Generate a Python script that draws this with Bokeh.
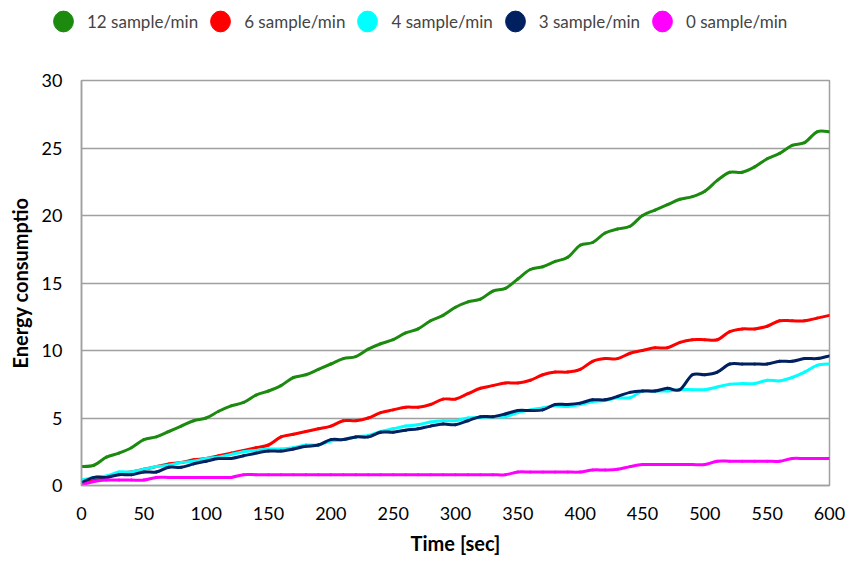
from bokeh.plotting import figure
from bokeh.models import Legend, LegendItem, Range1d, FixedTicker
from bokeh.layouts import column
from bokeh.embed import file_html
from bokeh.resources import INLINE

# Time axis (seconds), one reading every 10 s
time_sec = list(range(0, 601, 10))

rate_12 = [1.4, 1.5, 2.1, 2.4, 2.8, 3.4, 3.6, 4.0, 4.4, 4.8, 5.0, 5.5, 5.9, 6.15, 6.7, 7.0,
           7.4, 8.0, 8.2, 8.6, 9.0, 9.4, 9.55, 10.1, 10.5, 10.8, 11.3, 11.6, 12.2, 12.6, 13.2,
           13.6, 13.8, 14.4, 14.6, 15.3, 16.0, 16.2, 16.6, 16.9, 17.8, 18.0, 18.7, 19.0, 19.2,
           20.0, 20.4, 20.8, 21.2, 21.4, 21.8, 22.6, 23.2, 23.2, 23.6, 24.2, 24.6, 25.2, 25.4,
           26.2, 26.2]
rate_6 = [0.1, 0.4, 0.6, 0.9, 1.0, 1.2, 1.4, 1.6, 1.7, 1.9, 2.0, 2.2, 2.4, 2.6, 2.8, 3.0,
          3.6, 3.8, 4.0, 4.2, 4.4, 4.8, 4.8, 5.0, 5.4, 5.6, 5.8, 5.8, 6.0, 6.4, 6.4,
          6.8, 7.2, 7.4, 7.6, 7.6, 7.8, 8.2, 8.4, 8.4, 8.6, 9.2, 9.4, 9.4, 9.8,
          10.0, 10.2, 10.2, 10.6, 10.8, 10.8, 10.8, 11.4, 11.6, 11.6, 11.8, 12.2, 12.2, 12.2,
          12.4, 12.6]
rate_4 = [0.4, 0.6, 0.7, 1.0, 1.0, 1.2, 1.4, 1.5, 1.7, 1.8, 2.0, 2.1, 2.3, 2.5, 2.6, 2.7,
          2.7, 2.8, 3.0, 3.0, 3.3, 3.4, 3.6, 3.7, 4.0, 4.2, 4.4, 4.5, 4.7, 4.8, 4.8,
          5.0, 5.05, 5.1, 5.1, 5.4, 5.6, 5.75, 5.9, 5.85, 6.0, 6.2, 6.3, 6.5, 6.5,
          7.0, 7.0, 7.0, 7.1, 7.1, 7.1, 7.3, 7.5, 7.55, 7.55, 7.8, 7.75, 8.0, 8.4,
          8.9, 9.0]
rate_3 = [0.2, 0.6, 0.6, 0.8, 0.8, 1.0, 1.0, 1.35, 1.35, 1.6, 1.8, 2.0, 2.0, 2.2, 2.4, 2.55,
          2.55, 2.7, 2.9, 3.0, 3.4, 3.4, 3.6, 3.6, 3.95, 3.95, 4.1, 4.2, 4.4, 4.55, 4.5,
          4.8, 5.1, 5.1, 5.3, 5.55, 5.55, 5.6, 6.0, 6.0, 6.1, 6.35, 6.35, 6.6, 6.9,
          7.0, 7.0, 7.2, 7.1, 8.2, 8.2, 8.4, 9.0, 9.0, 9.0, 9.0, 9.2, 9.2, 9.4,
          9.4, 9.6]
rate_0 = [0.05, 0.3, 0.4, 0.4, 0.4, 0.4, 0.6, 0.6, 0.6, 0.6, 0.6, 0.6, 0.6, 0.8, 0.8, 0.8,
          0.8, 0.8, 0.8, 0.8, 0.8, 0.8, 0.8, 0.8, 0.8, 0.8, 0.8, 0.8, 0.8, 0.8, 0.8,
          0.8, 0.8, 0.8, 0.8, 1.0, 1.0, 1.0, 1.0, 1.0, 1.0, 1.15, 1.15, 1.2, 1.4,
          1.55, 1.55, 1.55, 1.55, 1.55, 1.55, 1.8, 1.8, 1.8, 1.8, 1.8, 1.8, 2.0, 2.0,
          2.0, 2.0]

series_labels = ["12 sample/min", "6 sample/min", "4 sample/min", "3 sample/min", "0 sample/min"]
series_values = [rate_12, rate_6, rate_4, rate_3, rate_0]
series_colors = ["#1B8A0F", "#FF0000", "#00FFFF", "#002060", "#FF00FF"]

x_ticks = list(range(0, 601, 50))
y_ticks = list(range(0, 31, 5))

FONT = "Lato"


def smooth_segments(xs, ys):
    """Cubic Bezier segments through every reading (Catmull-Rom style handles)."""
    n = len(xs)
    out = {"x0": [], "y0": [], "x1": [], "y1": [], "cx0": [], "cy0": [], "cx1": [], "cy1": []}
    for i in range(n - 1):
        xp, yp = (xs[i - 1], ys[i - 1]) if i > 0 else (xs[i], ys[i])
        xn, yn = (xs[i + 2], ys[i + 2]) if i + 2 < n else (xs[i + 1], ys[i + 1])
        out["x0"].append(xs[i]); out["y0"].append(ys[i])
        out["x1"].append(xs[i + 1]); out["y1"].append(ys[i + 1])
        out["cx0"].append(xs[i] + (xs[i + 1] - xp) / 6); out["cy0"].append(ys[i] + (ys[i + 1] - yp) / 6)
        out["cx1"].append(xs[i + 1] - (xn - xs[i]) / 6); out["cy1"].append(ys[i + 1] - (yn - ys[i]) / 6)
    return out


# ---- main chart ----
p = figure(width=850, height=493, output_backend="svg", toolbar_location=None,
           x_range=Range1d(0, 600), y_range=Range1d(0, 30),
           min_border_left=81, min_border_right=21, min_border_top=10, min_border_bottom=78)
p.frame_align = False

p.outline_line_color = "#A0A0A0"
p.outline_line_width = 1.5
p.background_fill_color = "white"
p.border_fill_color = "white"

p.xgrid.grid_line_color = None
p.ygrid.grid_line_color = "#A0A0A0"
p.ygrid.grid_line_width = 1.5

for ax in (p.xaxis[0], p.yaxis[0]):
    ax.axis_line_color = "#A0A0A0"
    ax.axis_line_width = 1.5
    ax.major_tick_line_color = None
    ax.minor_tick_line_color = None
    ax.major_tick_out = 0
    ax.major_tick_in = 0
    ax.minor_tick_out = 0
    ax.minor_tick_in = 0
    ax.major_label_text_font = FONT
    ax.major_label_text_font_size = "18px"
    ax.major_label_text_color = "black"
    ax.axis_label_text_font = FONT
    ax.axis_label_text_font_size = "20px"
    ax.axis_label_text_font_style = "bold"
    ax.axis_label_text_color = "black"

p.xaxis.ticker = FixedTicker(ticks=x_ticks)
p.yaxis.ticker = FixedTicker(ticks=y_ticks)
p.xaxis.axis_label = "Time [sec]"
p.yaxis.axis_label = "Energy consumptio"
p.xaxis.major_label_standoff = 21
p.yaxis.major_label_standoff = 19
p.xaxis.axis_label_standoff = 8
p.yaxis.axis_label_standoff = 7

for vals, color in zip(series_values, series_colors):
    seg = smooth_segments(time_sec, vals)
    p.bezier(x0=seg["x0"], y0=seg["y0"], x1=seg["x1"], y1=seg["y1"],
             cx0=seg["cx0"], cy0=seg["cy0"], cx1=seg["cx1"], cy1=seg["cy1"],
             line_color=color, line_width=3, line_cap="round")

# ---- legend strip above the chart ----
lg = figure(width=850, height=70, output_backend="svg", toolbar_location=None,
            x_range=Range1d(0, 1), y_range=Range1d(0, 1),
            x_axis_location=None, y_axis_location=None,
            min_border_left=0, min_border_right=0, min_border_top=0, min_border_bottom=0)
lg.frame_align = False
lg.grid.visible = False
lg.outline_line_color = None
lg.background_fill_color = "white"
lg.border_fill_color = "white"

items = []
for label, color in zip(series_labels, series_colors):
    # legend swatch; its point sits outside the visible range
    swatch = lg.ellipse(x=[-10], y=[-10], width=20, height=21,
                        width_units="screen", height_units="screen",
                        fill_color=color, line_color=color)
    items.append(LegendItem(label=label, renderers=[swatch]))

legend = Legend(items=items, orientation="horizontal", location=(50, 36),
                label_text_font=FONT, label_text_font_size="17px",
                glyph_width=26, glyph_height=26, label_standoff=11, spacing=9,
                border_line_color=None, background_fill_alpha=0,
                margin=0, padding=0)
lg.add_layout(legend, "center")

layout = column(lg, p, spacing=0)
open("out.html", "w").write(file_html(layout, INLINE))
